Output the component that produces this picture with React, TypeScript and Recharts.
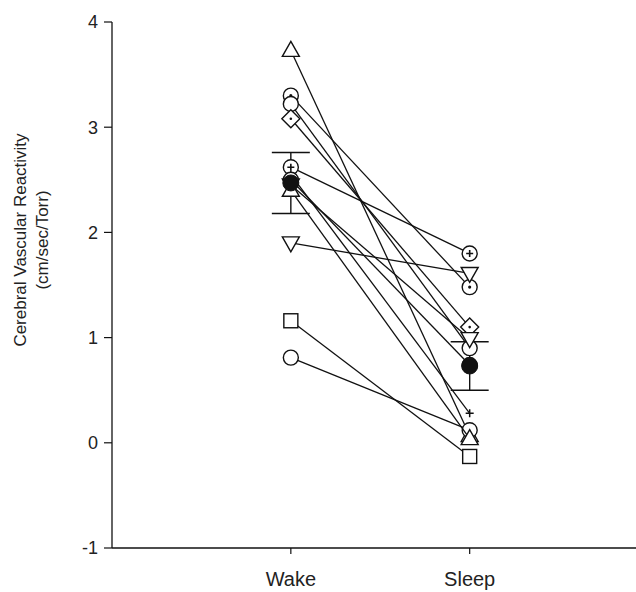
import React from 'react';
import { ScatterChart, Scatter, XAxis, YAxis, ErrorBar } from 'recharts';

// conditions on the x axis
const conditions = ['Wake', 'Sleep'];
const conditionPos = [1, 2];

// one entry per subject
const markerKinds = [
    'triangleUp', 'circleDot', 'circle', 'diamond', 'circlePlus', 'triangleDown',
    'square', 'circle', 'plus', 'triangleDown', 'triangleUp', 'circle'
];
const wakeValues = [3.73, 3.3, 3.22, 3.08, 2.62, 1.9, 1.16, 0.81, 2.55, 2.45, 2.4, 2.5];
const sleepValues = [0.07, 1.48, 0.9, 1.1, 1.8, 1.61, -0.13, 0.12, 0.28, 0.99, 0.04, 0.74];

// group mean +/- SEM
const meanValues = [2.47, 0.73];
const semValues = [0.29, 0.23];

const yTicks = [-1, 0, 1, 2, 3, 4];

const INK = '#111';
const FONT = '"Liberation Sans", Arial, sans-serif';

const subjectData = markerKinds.map((kind, i) => ({
    kind,
    points: [
        { x: conditionPos[0], y: wakeValues[i] },
        { x: conditionPos[1], y: sleepValues[i] },
    ],
}));

const meanData = conditionPos.map((x, i) => ({ x, y: meanValues[i], err: semValues[i] }));

const drawMarker = (kind: string) => (props: any) => {
    const { cx, cy } = props;
    if (cx == null || cy == null) return <g />;
    const st = { fill: '#fff', stroke: INK, strokeWidth: 1.4 };
    switch (kind) {
        case 'circle':
            return <circle cx={cx} cy={cy} r={7.5} {...st} />;
        case 'circleDot':
            return (
                <g>
                    <circle cx={cx} cy={cy} r={7.5} {...st} />
                    <circle cx={cx} cy={cy} r={1.6} fill={INK} />
                </g>
            );
        case 'circlePlus':
            return (
                <g>
                    <circle cx={cx} cy={cy} r={7.5} {...st} />
                    <path d={`M${cx - 3.5},${cy}H${cx + 3.5}M${cx},${cy - 3.5}V${cy + 3.5}`} stroke={INK} strokeWidth={1.6} />
                </g>
            );
        case 'square':
            return <rect x={cx - 7} y={cy - 7} width={14} height={14} {...st} />;
        case 'diamond':
            return (
                <g>
                    <polygon points={`${cx},${cy - 9} ${cx + 9},${cy} ${cx},${cy + 9} ${cx - 9},${cy}`} {...st} />
                    <circle cx={cx} cy={cy} r={1.3} fill={INK} />
                </g>
            );
        case 'triangleUp':
            return <polygon points={`${cx},${cy - 9} ${cx + 8.5},${cy + 6} ${cx - 8.5},${cy + 6}`} {...st} />;
        case 'triangleDown':
            return <polygon points={`${cx - 8.5},${cy - 6} ${cx + 8.5},${cy - 6} ${cx},${cy + 9}`} {...st} />;
        case 'plus':
            return <path d={`M${cx - 4},${cy}H${cx + 4}M${cx},${cy - 4}V${cy + 4}`} stroke={INK} strokeWidth={1.5} />;
        default:
            return <circle cx={cx} cy={cy} r={7.5} {...st} />;
    }
};

const meanMarker = (props: any) => {
    const { cx, cy } = props;
    if (cx == null || cy == null) return <g />;
    return <circle cx={cx} cy={cy} r={8} fill={INK} stroke={INK} />;
};

const renderYLabel = (props: any) => {
    const vb = props.viewBox || {};
    const cy = vb.y + vb.height / 2 - 45;
    const x1 = 20;
    const x2 = 42;
    return (
        <g fontFamily={FONT} fontSize={17} fill="#222">
            <text x={x1} y={cy} textAnchor="middle" dominantBaseline="central" transform={`rotate(-90, ${x1}, ${cy})`}>
                Cerebral Vascular Reactivity
            </text>
            <text x={x2} y={cy} textAnchor="middle" dominantBaseline="central" transform={`rotate(-90, ${x2}, ${cy})`}>
                (cm/sec/Torr)
            </text>
        </g>
    );
};

const App = () => {
    return (
        <div style={{ position: 'absolute', left: 0, top: 0, background: '#fff' }}>
            <ScatterChart width={636} height={592} margin={{ top: 22, right: 0, left: 52, bottom: 4 }}>
                <XAxis
                    type="number"
                    dataKey="x"
                    domain={[0, 2.93]}
                    ticks={conditionPos}
                    tickFormatter={(v: number) => conditions[conditionPos.indexOf(v)] ?? ''}
                    allowDataOverflow
                    height={40}
                    tickSize={6}
                    tickMargin={18}
                    axisLine={{ stroke: INK, strokeWidth: 1.3 }}
                    tickLine={{ stroke: INK, strokeWidth: 1.2 }}
                    tick={{ fill: '#222', fontSize: 20, fontFamily: FONT }}
                />
                <YAxis
                    type="number"
                    dataKey="y"
                    domain={[-1, 4]}
                    ticks={yTicks}
                    allowDataOverflow
                    width={60}
                    tickSize={8}
                    tickMargin={6}
                    axisLine={{ stroke: INK, strokeWidth: 1.3 }}
                    tickLine={{ stroke: INK, strokeWidth: 1.2 }}
                    tick={{ fill: '#222', fontSize: 18, fontFamily: FONT }}
                    label={{ content: renderYLabel }}
                />
                {subjectData.map((s, i) => (
                    <Scatter
                        key={`subj-${i}`}
                        data={s.points}
                        line={{ stroke: INK, strokeWidth: 1.3 }}
                        lineType="joint"
                        shape={drawMarker(s.kind)}
                        isAnimationActive={false}
                    />
                ))}
                <Scatter data={meanData} shape={meanMarker} isAnimationActive={false}>
                    <ErrorBar dataKey="err" direction="y" width={19} stroke={INK} strokeWidth={1.4} />
                </Scatter>
            </ScatterChart>
        </div>
    );
};

export default App;
